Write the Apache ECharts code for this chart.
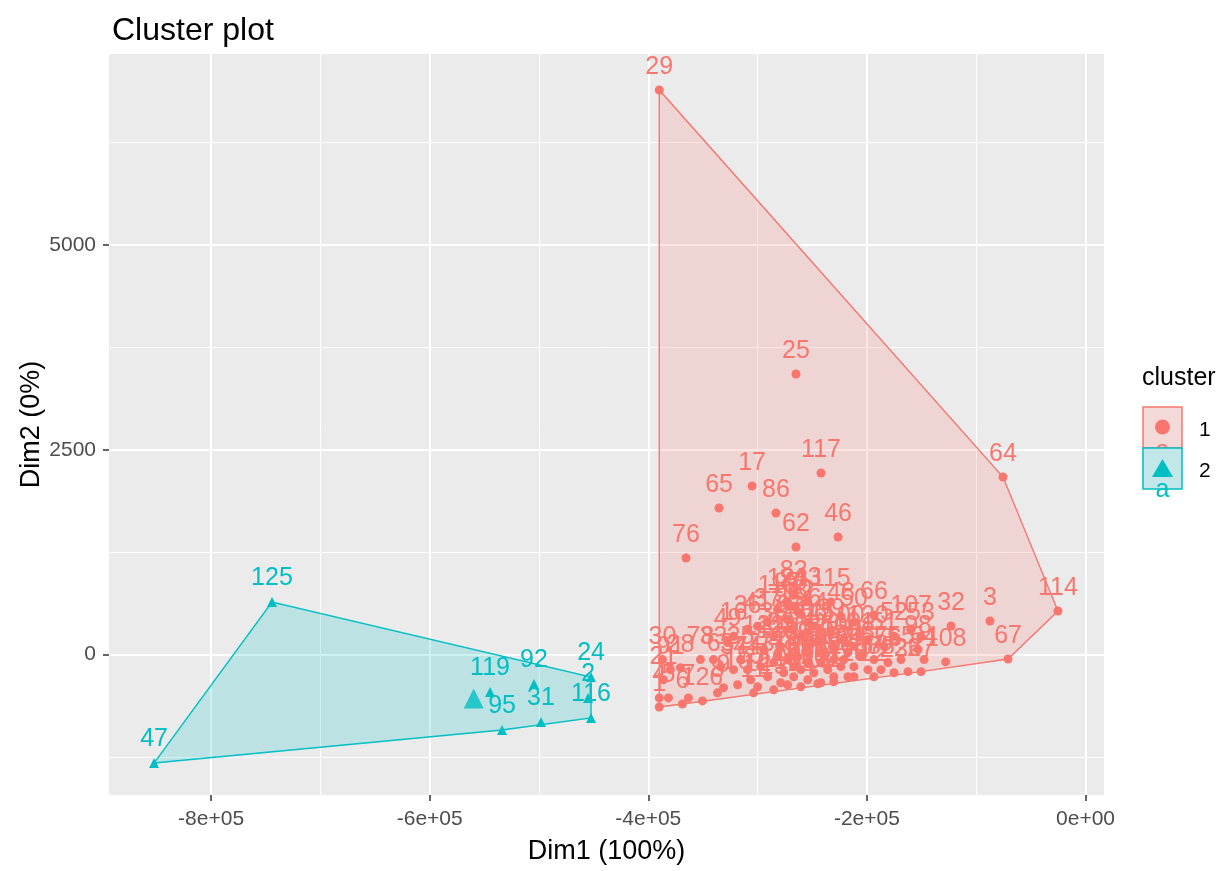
<!DOCTYPE html>
<html>
<head>
<meta charset="utf-8">
<title>Cluster plot</title>
<script src="https://cdn.jsdelivr.net/npm/echarts@6/dist/echarts.min.js"></script>
<style>
  html, body { margin: 0; padding: 0; background: #fff; }
  #chart { width: 1225px; height: 871px; }
</style>
</head>
<body>
<div id="chart"></div>
<script>
// cluster 1 (red circles)
const cluster1X = [
  -390000, -264900, -242000, -305100, -335300, -283200, -264900, -226400, -365500, -75500, -267000,
  -390000, -390000, -381600, -368800, -363300, -350500, -336700, -331200, -318300, -303700,
  -300000, -285300, -272500, -260500, -244900, -230300, -211900, -193600, -175200, -162400,
  -150500, -128000, -123000, -87400, -70900, -25200,
  -386200, -379800, -370600, -387100, -352300, -340400, -333900, -322000, -315600, -327500,
  -322000, -309200, -300000, -290800, -285300, -278900, -263000, -272200, -267000, -260500,
  -254100, -248600, -242200, -233000, -223800, -211900, -193600, -199100, -184400, -175200,
  -159600, -150500, -153200, -147700, -168800, -180700, -193600, -205500, -217400, -230300,
  -242200, -254100, -263300, -272500, -285300, -297200, -309200, -306400, -290800, -276100,
  -260500, -248600, -235800, -223800, -211900, -199100, -187100, -248600, -260500, -269700,
  -272500, -254100, -233000, -221100, -211900, -230300, -242200, -254100, -267000, -278900,
  -267000, -254100, -242200, -230300, -217400, -281700, -272500,
  -294500, -281700, -221100
]
const cluster1Y = [
  6893, 3425, 2216, 2057, 1789, 1728, 1313, 1435, 1178, 2167, 739,
  -640, -530, -530, -604, -530, -566, -468, -406, -369, -468,
  -394, -431, -369, -394, -357, -333, -271, -271, -222, -209,
  -209, -90, 348, 409, -55, 531,
  -308, -185, -160, -62, -62, -62, -148, -185, -62, 148,
  222, 308, 345, 394, 222, 99, 519, 592, 591, 493,
  653, 345, 222, 640, 468, 394, 480, 185, 99, 222,
  308, 222, 62, -62, -62, -98, -62, -25, 25, 62,
  25, 62, -25, -62, -98, -148, -185, -308, -271, -222,
  -185, -222, -185, -148, -148, -185, -185, 148, 222, 308,
  431, 394, 271, 185, 99, -62, -98, -98, -148, -345,
  -271, -308, -345, -271, -271, 554, 640,
  62, 0, -62
]
const cluster1Labels = [
  29, 25, 117, 17, 65, 86, 62, 46, 76, 64, 83,
  1, 4, 5, 6, 7, 126, 8, 9, 10, 11,
  12, 13, 14, 15, 18, 19, 20, 22, 23, 26,
  27, 108, 32, 3, 67, 114,
  21, 91, 28, 30, 78, 33, 63, 34, 35, 49,
  16, 36, 41, 37, 38, 39, 70, 97, 40, 42,
  43, 44, 45, 115, 48, 50, 66, 120, 51, 52,
  107, 53, 98, 54, 55, 56, 57, 58, 59, 60,
  61, 68, 69, 71, 72, 73, 74, 75, 77, 79,
  80, 81, 82, 84, 85, 87, 88, 89, 90, 93,
  94, 96, 99, 100, 101, 102, 103, 104, 105, 106,
  109, 110, 111, 112, 113, 118, 121,
  122, 123, 124
]

// cluster 2 (cyan triangles)
const cluster2X = [-744300, -852200, -544800, -504600, -452400, -455100, -452400, -533800, -498200]
const cluster2Y = [641, -1325, -458, -360, -275, -531, -775, -922, -824]
const cluster2Labels = [125, 47, 119, 92, 24, 2, 116, 95, 31]

const xMajorTicks = [-800000, -600000, -400000, -200000, 0]
const xMinorTicks = [-700000, -500000, -300000, -100000]
const yMajorTicks = [0, 2500, 5000]
const yMinorTicks = [-1250, 1250, 3750, 6250]

const RED = '#F8766D'
const CYAN = '#00BFC4'
const FONT = '"Liberation Sans", Arial, sans-serif'

function toRows(xs, ys, labels) {
  return xs.map((x, i) => [x, ys[i], labels[i]])
}

function mean(arr) {
  return arr.reduce((s, v) => s + v, 0) / arr.length
}

// monotone chain convex hull
function convexHull(points) {
  const pts = points.map(p => [p[0], p[1]]).sort((a, b) => a[0] - b[0] || a[1] - b[1])
  const cross = (o, a, b) => (a[0] - o[0]) * (b[1] - o[1]) - (a[1] - o[1]) * (b[0] - o[0])
  const lower = []
  for (const p of pts) {
    while (lower.length >= 2 && cross(lower[lower.length - 2], lower[lower.length - 1], p) <= 0) lower.pop()
    lower.push(p)
  }
  const upper = []
  for (let i = pts.length - 1; i >= 0; i--) {
    const p = pts[i]
    while (upper.length >= 2 && cross(upper[upper.length - 2], upper[upper.length - 1], p) <= 0) upper.pop()
    upper.push(p)
  }
  upper.pop()
  lower.pop()
  return lower.concat(upper)
}

function rgba(hex, a) {
  const n = parseInt(hex.slice(1), 16)
  return `rgba(${(n >> 16) & 255},${(n >> 8) & 255},${n & 255},${a})`
}

function sciLabel(v) {
  if (v === 0) return '0e+00'
  const e = Math.floor(Math.log10(Math.abs(v)))
  const m = Math.round(v / Math.pow(10, e))
  return `${m}e+${String(e).padStart(2, '0')}`
}

const rows1 = toRows(cluster1X, cluster1Y, cluster1Labels)
const rows2 = toRows(cluster2X, cluster2Y, cluster2Labels)
const hull1 = convexHull(rows1)
const hull2 = convexHull(rows2)

function hullSeries(hull, color) {
  return {
    type: 'custom',
    silent: true,
    clip: false,
    z: 1,
    data: [hull[0]],
    renderItem: (params, api) => ({
      type: 'polygon',
      shape: { points: hull.map(p => api.coord(p)) },
      style: { fill: rgba(color, 0.2), stroke: color, lineWidth: 1.4 },
    }),
  }
}

function pointSeries(rows, color, symbol, size) {
  return {
    type: 'scatter',
    data: rows,
    symbol,
    symbolSize: size,
    z: 3,
    itemStyle: { color, opacity: 1 },
    label: {
      show: true,
      position: 'top',
      distance: 6,
      formatter: p => String(p.data[2]),
      color,
      fontSize: 25,
      fontFamily: FONT,
    },
    labelLayout: { hideOverlap: false },
  }
}

const X_MIN = -893400, X_MAX = 16900
const Y_MIN = -1715, Y_MAX = 7332

const tickStyle = { color: '#333', width: 1.5 }

const option = {
  animation: false,
  textStyle: { fontFamily: FONT },
  title: {
    text: 'Cluster plot',
    left: 107,
    top: 10,
    textStyle: { fontSize: 32, fontWeight: 'normal', color: '#000', fontFamily: FONT },
  },
  grid: {
    left: 109, right: 121, top: 54, bottom: 76,
    show: true, backgroundColor: '#EBEBEB', borderWidth: 0,
    outerBoundsMode: 'none',
  },
  xAxis: [
    {
      type: 'value', min: X_MIN, max: X_MAX, position: 'bottom',
      name: 'Dim1 (100%)', nameLocation: 'middle', nameGap: 43, nameMoveOverlap: false,
      nameTextStyle: { fontSize: 27, color: '#000', fontFamily: FONT },
      axisLine: { show: false, onZero: false },
      axisTick: { show: true, customValues: xMajorTicks, length: 6, lineStyle: tickStyle },
      axisLabel: {
        customValues: xMajorTicks, formatter: sciLabel,
        color: '#4D4D4D', fontSize: 21, fontFamily: FONT, margin: 14,
      },
      splitLine: { show: true, lineStyle: { color: '#fff', width: 2 } },
    },
    {
      type: 'value', min: X_MIN, max: X_MAX, position: 'top',
      axisLine: { show: false, onZero: false },
      axisTick: { show: false, customValues: xMinorTicks },
      axisLabel: { show: false, customValues: xMinorTicks },
      splitLine: { show: true, lineStyle: { color: '#fff', width: 1 } },
    },
  ],
  yAxis: [
    {
      type: 'value', min: Y_MIN, max: Y_MAX, position: 'left',
      name: 'Dim2 (0%)', nameLocation: 'middle', nameGap: 64, nameRotate: 90, nameMoveOverlap: false,
      nameTextStyle: { fontSize: 27, color: '#000', fontFamily: FONT },
      axisLine: { show: false, onZero: false },
      axisTick: { show: true, customValues: yMajorTicks, length: 6, lineStyle: tickStyle },
      axisLabel: {
        customValues: yMajorTicks, formatter: v => String(v),
        color: '#4D4D4D', fontSize: 21, fontFamily: FONT, margin: 13,
      },
      splitLine: { show: true, lineStyle: { color: '#fff', width: 2 } },
    },
    {
      type: 'value', min: Y_MIN, max: Y_MAX, position: 'right',
      axisLine: { show: false, onZero: false },
      axisTick: { show: false, customValues: yMinorTicks },
      axisLabel: { show: false, customValues: yMinorTicks },
      splitLine: { show: true, lineStyle: { color: '#fff', width: 1 } },
    },
  ],
  series: [
    hullSeries(hull1, RED),
    hullSeries(hull2, CYAN),
    pointSeries(rows1, RED, 'circle', 9),
    pointSeries(rows2, CYAN, 'triangle', 10),
    {
      type: 'scatter', z: 4,
      data: [[mean(cluster1X), mean(cluster1Y)]],
      symbol: 'circle', symbolSize: 17, itemStyle: { color: RED },
    },
    {
      type: 'scatter', z: 4,
      data: [[mean(cluster2X), mean(cluster2Y)]],
      symbol: 'triangle', symbolSize: 20, itemStyle: { color: CYAN },
    },
  ],
  graphic: [
    { type: 'text', left: 1142, top: 366, z: 10, style: { text: 'cluster', fill: '#000', font: '25px ' + FONT } },
    { type: 'rect', z: 10, shape: { x: 1143, y: 407, width: 39, height: 41 }, style: { fill: '#F2F2F2' } },
    { type: 'rect', z: 11, shape: { x: 1143, y: 407, width: 39, height: 41 }, style: { fill: rgba(RED, 0.2), stroke: RED, lineWidth: 1.5 } },
    { type: 'circle', z: 12, shape: { cx: 1162.5, cy: 427, r: 7.5 }, style: { fill: RED } },
    { type: 'text', z: 12, x: 1162.5, y: 451, style: { text: 'a', fill: RED, font: '25px ' + FONT, align: 'center', verticalAlign: 'middle' } },
    { type: 'rect', z: 13, shape: { x: 1143, y: 448, width: 39, height: 41 }, style: { fill: '#F2F2F2' } },
    { type: 'rect', z: 14, shape: { x: 1143, y: 448, width: 39, height: 41 }, style: { fill: rgba(CYAN, 0.2), stroke: CYAN, lineWidth: 1.5 } },
    { type: 'polygon', z: 15, shape: { points: [[1162.5, 459], [1173, 477], [1152, 477]] }, style: { fill: CYAN } },
    { type: 'text', z: 15, x: 1162.5, y: 490, style: { text: 'a', fill: CYAN, font: '25px ' + FONT, align: 'center', verticalAlign: 'middle' } },
    { type: 'text', z: 15, x: 1199, y: 430, style: { text: '1', fill: '#000', font: '21px ' + FONT, verticalAlign: 'middle' } },
    { type: 'text', z: 15, x: 1199, y: 471, style: { text: '2', fill: '#000', font: '21px ' + FONT, verticalAlign: 'middle' } },
  ],
}

const chart = echarts.init(document.getElementById('chart'), null, { renderer: 'canvas' })
chart.setOption(option)
</script>
</body>
</html>
